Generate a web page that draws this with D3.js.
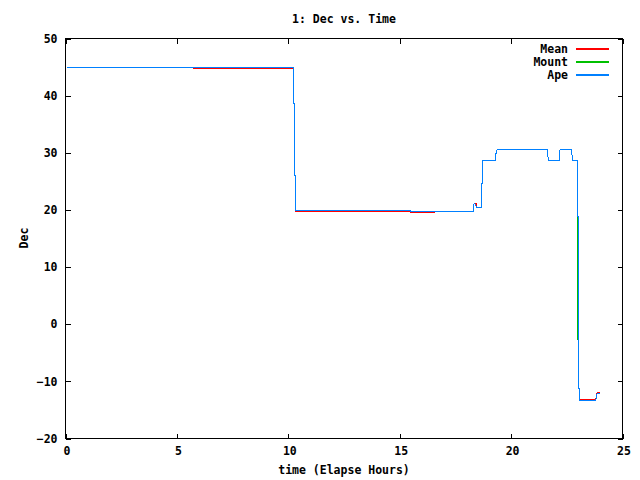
<!DOCTYPE html>
<html>
<head>
<meta charset="utf-8">
<script src="https://cdn.jsdelivr.net/npm/d3@7"></script>
<style>
  html, body { margin: 0; padding: 0; background: #fff; }
  svg text { font-family: "DejaVu Sans Mono", monospace; font-weight: bold; font-size: 11.5px; fill: #000; }
</style>
</head>
<body>
<svg id="chart" width="640" height="480"></svg>
<script>
// ---- data (time in elapsed hours, Dec in degrees) ----
const xTicks = [0, 5, 10, 15, 20, 25];
const yTicks = [-20, -10, 0, 10, 20, 30, 40, 50];
const seriesNames = ["Mean", "Mount", "Ape"];
const seriesColors = ["#ff0000", "#00c000", "#0080ff"];

const apeTime = [0.07, 10.22, 10.22, 10.27, 10.27, 10.31, 10.31, 15.49, 15.49, 18.30, 18.30, 18.37, 18.45, 18.48, 18.65, 18.65, 18.70, 18.70, 19.28, 19.28, 19.33, 19.37, 21.59, 21.61, 21.63, 21.68, 22.15, 22.15, 22.20, 22.69, 22.72, 22.77, 22.96, 22.96, 23.01, 23.01, 23.05, 23.05, 23.80, 23.83, 23.86, 23.98];
const apeDec  = [44.92, 44.92, 38.62, 38.62, 26.00, 26.00, 19.86, 19.86, 19.74, 19.74, 20.95, 21.10, 20.53, 20.36, 20.36, 24.60, 24.60, 28.70, 28.70, 29.87, 29.87, 30.57, 30.57, 30.70, 29.87, 28.70, 28.70, 29.87, 30.60, 30.60, 29.87, 28.70, 28.70, 18.90, 18.90, -11.20, -11.20, -13.35, -13.35, -12.72, -12.20, -12.20];

const mountTime = [0.07, 10.22, 10.22, 10.27, 10.27, 10.31, 10.31, 15.49, 15.49, 18.30, 18.30, 18.37, 18.45, 18.48, 18.65, 18.65, 18.70, 18.70, 19.28, 19.28, 19.33, 19.37, 21.59, 21.61, 21.63, 21.68, 22.15, 22.15, 22.20, 22.69, 22.72, 22.77, 22.96, 22.96, 22.99, 22.99, 23.02, 23.02, 23.07, 23.07, 23.80, 23.83, 23.86, 23.98];
const mountDec  = [44.92, 44.92, 38.62, 38.62, 26.00, 26.00, 19.86, 19.86, 19.74, 19.74, 20.95, 21.10, 20.53, 20.36, 20.36, 24.60, 24.60, 28.70, 28.70, 29.87, 29.87, 30.57, 30.57, 30.70, 29.87, 28.70, 28.70, 29.87, 30.60, 30.60, 29.87, 28.70, 28.70, 18.30, 18.30, -2.70, -2.70, -11.20, -11.20, -13.35, -13.35, -12.72, -12.20, -12.20];

const meanTime = [0.07, 5.76, 5.76, 10.22, 10.22, 10.27, 10.27, 10.31, 10.31, 15.49, 15.49, 16.58, 16.58, 18.30, 18.30, 18.37, 18.43, 18.43, 18.65, 18.65, 18.70, 18.70, 19.28, 19.28, 19.33, 19.37, 21.59, 21.61, 21.63, 21.68, 22.15, 22.15, 22.20, 22.69, 22.72, 22.77, 22.96, 22.96, 23.01, 23.01, 23.05, 23.05, 23.80, 23.83, 23.86, 23.98];
const meanDec  = [44.92, 44.92, 44.75, 44.75, 38.62, 38.62, 26.00, 26.00, 19.69, 19.69, 19.55, 19.55, 19.74, 19.74, 20.95, 21.10, 21.10, 20.36, 20.36, 24.60, 24.60, 28.70, 28.70, 29.87, 29.87, 30.57, 30.57, 30.70, 29.87, 28.70, 28.70, 29.87, 30.60, 30.60, 29.87, 28.70, 28.70, 18.90, 18.90, -11.20, -11.20, -13.21, -13.21, -12.60, -12.02, -12.02];

const titleText = "1: Dec vs. Time";
const xLabel = "time (Elapse Hours)";
const yLabel = "Dec";

// ---- layout ----
const L = 65.5, R = 622.5, T = 38.5, B = 438.5;
const svg = d3.select("#chart");

const x = d3.scaleLinear().domain([0, 25]).range([L, R]);
const y = d3.scaleLinear().domain([-20, 50]).range([B, T]);

// axes (inward ticks, mirrored)
const tick = 5;
const gB = svg.append("g").attr("transform", `translate(0,${B})`)
  .call(d3.axisBottom(x).tickValues(xTicks).tickSize(-tick).tickPadding(8).tickFormat(d3.format("d")));
const gT = svg.append("g").attr("transform", `translate(0,${T})`)
  .call(d3.axisTop(x).tickValues(xTicks).tickSize(-tick).tickFormat(""));
const gL = svg.append("g").attr("transform", `translate(${L},0)`)
  .call(d3.axisLeft(y).tickValues(yTicks).tickSize(-tick).tickPadding(8).tickFormat(d3.format("d")));
const gR = svg.append("g").attr("transform", `translate(${R},0)`)
  .call(d3.axisRight(y).tickValues(yTicks).tickSize(-tick).tickFormat(""));
[gB, gT, gL, gR].forEach(g => {
  g.select(".domain").remove();
  g.selectAll("line").attr("stroke", "#000").attr("shape-rendering", "crispEdges");
  g.selectAll("text").attr("font-family", null).attr("font-size", null).attr("fill", "#000");
});
gB.selectAll("text").attr("transform", "translate(1,0)");

svg.append("rect")
  .attr("x", L).attr("y", T).attr("width", R - L).attr("height", B - T)
  .attr("fill", "none").attr("stroke", "#000").attr("stroke-width", 1)
  .attr("shape-rendering", "crispEdges");

// series
const seriesData = [
  meanTime.map((t, i) => [t, meanDec[i]]),
  mountTime.map((t, i) => [t, mountDec[i]]),
  apeTime.map((t, i) => [t, apeDec[i]])
];
const line = d3.line().x(d => x(d[0])).y(d => y(d[1]));
seriesData.forEach((data, i) => {
  svg.append("path")
    .attr("d", line(data))
    .attr("fill", "none")
    .attr("stroke", seriesColors[i])
    .attr("stroke-width", 1)
    .attr("shape-rendering", "crispEdges")
    .attr("stroke-linejoin", "miter");
});

// legend
const legY = [49, 62, 75];
seriesNames.forEach((name, i) => {
  svg.append("text").attr("x", 568).attr("y", legY[i]).attr("dy", "0.35em")
    .attr("text-anchor", "end").text(name);
  svg.append("rect").attr("x", 576).attr("y", legY[i] - 1)
    .attr("width", 33).attr("height", 2)
    .attr("fill", seriesColors[i]).attr("stroke", "none")
    .attr("shape-rendering", "crispEdges");
});

// titles
svg.append("text").attr("x", 344).attr("y", 23).attr("text-anchor", "middle").text(titleText);
svg.append("text").attr("x", 344).attr("y", 474).attr("text-anchor", "middle").text(xLabel);
svg.append("text").attr("transform", "translate(28,238) rotate(-90)")
  .attr("text-anchor", "middle").text(yLabel);
</script>
</body>
</html>
